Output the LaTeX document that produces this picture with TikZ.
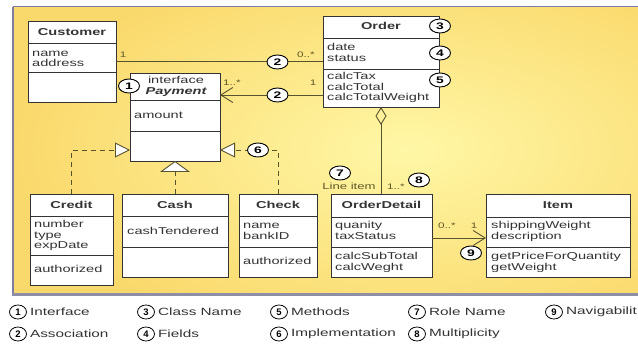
\documentclass[tikz,border=0pt]{standalone}
\usepackage{fontspec}
\setmainfont{Liberation Sans}
\newfontfamily\umlf[FakeStretch=1.46]{Liberation Sans}
\usetikzlibrary{arrows.meta,shapes.geometric}
\definecolor{panelin}{HTML}{FFF7A6}
\definecolor{panelout}{HTML}{FAD96C}
\definecolor{edgec}{HTML}{7C7CA4}
\definecolor{shadowc}{HTML}{8E8EA6}
\definecolor{ink}{HTML}{333333}
\definecolor{olive}{HTML}{5E5828}
\definecolor{linec}{HTML}{58532F}
\begin{document}
\begin{tikzpicture}[x=1pt,y=-1pt,
  classbox/.style={draw=ink, line width=0.9pt, fill=white, inner sep=0pt, outer sep=0pt, anchor=north west},
  divider/.style={draw=ink, line width=0.9pt},
  ctitle/.style={font=\umlf\fontsize{10}{11}\selectfont\bfseries, text=ink, inner sep=0pt, anchor=base},
  ctext/.style={font=\umlf\fontsize{10}{11}\selectfont, text=ink, inner sep=0pt, anchor=base west},
  num/.style={ellipse, draw=black, line width=0.9pt, fill=white, minimum width=21pt, minimum height=14pt, inner sep=0pt, font=\umlf\fontsize{9.5}{9.5}\selectfont\bfseries},
  lnum/.style={ellipse, draw=black, line width=0.8pt, fill=white, minimum width=17pt, minimum height=14pt, inner sep=0pt, font=\fontsize{9.5}{9.5}\selectfont\bfseries},
  mult/.style={font=\umlf\fontsize{8}{8}\selectfont, text=olive, inner sep=0pt, anchor=base},
  legendtext/.style={font=\umlf\fontsize{10.5}{11}\selectfont, text=ink, inner sep=0pt, anchor=west},
  conn/.style={draw=linec, line width=0.9pt},
  impl/.style={conn, dash pattern=on 5pt off 4pt},
  barb/.style={-{Straight Barb[length=12pt,width=15pt]}},
  realize/.style={-{Triangle[length=15pt,width=15pt,fill=white]}},
]
\useasboundingbox (0,0) rectangle (638,344);
\fill[white] (0,0) rectangle (638,344);
% panel
\begin{scope}
\clip (13,7) rectangle (638,293);
\shade[inner color=panelin, outer color=panelout] (13,-40) rectangle (800,340);
\end{scope}
\draw[edgec, line width=1pt] (13,7) -- (638,7);
\draw[edgec, line width=1.6pt] (13,7) -- (13,295);
\draw[shadowc, line width=3pt] (12,294.5) -- (638,294.5);

% Customer
\node[classbox, minimum width=88pt, minimum height=81pt] (customer) at (28,21) {};
\draw[divider] (28,43) -- (116,43) (28,72) -- (116,72);
\node[ctitle] (customer-t) at (72,36) {Customer};
\node[ctext] (customer-f1) at (32,57) {name};
\node[ctext] (customer-f2) at (32,67) {address};

% Payment
\node[classbox, minimum width=90pt, minimum height=88pt] (payment) at (130,73) {};
\draw[divider] (130,100) -- (220,100) (130,131) -- (220,131);
\node[ctext, anchor=base] (payment-s) at (176,84) {interface};
\node[ctitle] (payment-t) at (176,94.5) {\itshape Payment};
\node[ctext] (payment-f1) at (134,119) {amount};

% Order
\node[classbox, minimum width=116pt, minimum height=91pt] (order) at (323,16) {};
\draw[divider] (323,38) -- (439,38) (323,69) -- (439,69);
\node[ctitle] (order-t) at (381,30) {Order};
\node[ctext] (order-f1) at (327,51) {date};
\node[ctext] (order-f2) at (327,62) {status};
\node[ctext] (order-m1) at (327,80) {calcTax};
\node[ctext] (order-m2) at (327,90.5) {calcTotal};
\node[ctext] (order-m3) at (327,101) {calcTotalWeight};

% Credit
\node[classbox, minimum width=83pt, minimum height=91pt] (credit) at (30,194) {};
\draw[divider] (30,216) -- (113,216) (30,255) -- (113,255);
\node[ctitle] (credit-t) at (71.5,208.5) {Credit};
\node[ctext] (credit-f1) at (34,228) {number};
\node[ctext] (credit-f2) at (34,238.5) {type};
\node[ctext] (credit-f3) at (34,249) {expDate};
\node[ctext] (credit-m1) at (34,273) {authorized};

% Cash
\node[classbox, minimum width=106pt, minimum height=83pt] (cash) at (122,194) {};
\draw[divider] (122,216) -- (228,216) (122,247) -- (228,247);
\node[ctitle] (cash-t) at (175,208.5) {Cash};
\node[ctext] (cash-f1) at (127,235) {cashTendered};

% Check
\node[classbox, minimum width=78pt, minimum height=83pt] (check) at (239,194) {};
\draw[divider] (239,216) -- (317,216) (239,247) -- (317,247);
\node[ctitle] (check-t) at (278,208.5) {Check};
\node[ctext] (check-f1) at (243,229) {name};
\node[ctext] (check-f2) at (243,240) {bankID};
\node[ctext] (check-m1) at (243,265) {authorized};

% OrderDetail
\node[classbox, minimum width=101pt, minimum height=83pt] (orderdetail) at (331,194) {};
\draw[divider] (331,217) -- (432,217) (331,247) -- (432,247);
\node[ctitle] (orderdetail-t) at (381.5,209) {OrderDetail};
\node[ctext] (orderdetail-f1) at (335,229) {quanity};
\node[ctext] (orderdetail-f2) at (335,240) {taxStatus};
\node[ctext] (orderdetail-m1) at (335,260) {calcSubTotal};
\node[ctext] (orderdetail-m2) at (335,270.5) {calcWeght};

% Item
\node[classbox, minimum width=144pt, minimum height=83pt] (item) at (486,194) {};
\draw[divider] (486,217) -- (630,217) (486,247) -- (630,247);
\node[ctitle] (item-t) at (558,209) {Item};
\node[ctext] (item-f1) at (491,229) {shippingWeight};
\node[ctext] (item-f2) at (491,240) {description};
\node[ctext] (item-m1) at (491,260) {getPriceForQuantity};
\node[ctext] (item-m2) at (491,270.5) {getWeight};

% connectors
\draw[conn] (customer.east) -- (order.west);
\draw[conn, barb] ([yshift=-33.5pt]order.west) -- ([yshift=-33.5pt]order.west -| payment.east);
\draw[conn, {Diamond[open,length=18pt,width=11pt]}-] (order.south) -- (order.south |- orderdetail.north);
\draw[conn, barb] ([yshift=-2.5pt]orderdetail.east) -- ([yshift=-2.5pt]item.west);
\draw[impl, realize] (credit.north) |- ([yshift=-33pt]payment.west);
\draw[impl, -{Triangle[length=11pt,width=30pt,fill=white]}] (cash.north) -- (payment.south);
\draw[impl, realize] (check.north) |- ([yshift=-33pt]payment.east);

% multiplicities and role
\node[mult] (m-cust) at (123,57.5) {1};
\node[mult] (m-ord1) at (306,57.5) {0..*};
\node[mult] (m-pay) at (232,85.5) {1..*};
\node[mult] (m-ord2) at (313,85.5) {1};
\node[mult, font=\umlf\fontsize{9}{9}\selectfont] (role) at (349,190) {Line item};
\node[mult] (m-det) at (396,190) {1..*};
\node[mult] (m-det2) at (447,229) {0..*};
\node[mult] (m-item) at (474,229) {1};

% numbered markers
\node[num] (n1) at (129,86) {1};
\node[num] (n2a) at (277.5,62) {2};
\node[num] (n2b) at (277.5,95) {2};
\node[num] (n3) at (440,26) {3};
\node[num] (n4) at (440,53) {4};
\node[num] (n5) at (440,80) {5};
\node[num] (n6) at (258,150) {6};
\node[num] (n7) at (340,173) {7};
\node[num] (n8) at (419,180) {8};
\node[num] (n9) at (471,253) {9};

% legend
\node[lnum] (l1) at (18,312) {1};
\node[legendtext] (lt1) at ([xshift=3pt]l1.east) {Interface};
\node[lnum] (l2) at (18,334) {2};
\node[legendtext] (lt2) at ([xshift=3pt]l2.east) {Association};
\node[lnum] (l3) at (146,312) {3};
\node[legendtext] (lt3) at ([xshift=3pt]l3.east) {Class Name};
\node[lnum] (l4) at (146,334) {4};
\node[legendtext] (lt4) at ([xshift=3pt]l4.east) {Fields};
\node[lnum] (l5) at (279,312) {5};
\node[legendtext] (lt5) at ([xshift=3pt]l5.east) {Methods};
\node[lnum] (l6) at (279,334) {6};
\node[legendtext] (lt6) at ([xshift=3pt]l6.east) {Implementation};
\node[lnum] (l7) at (417,312) {7};
\node[legendtext] (lt7) at ([xshift=3pt]l7.east) {Role Name};
\node[lnum] (l8) at (417,334) {8};
\node[legendtext] (lt8) at ([xshift=3pt]l8.east) {Multiplicity};
\node[lnum] (l9) at (554,312) {9};
\node[legendtext] (lt9) at ([xshift=3pt]l9.east) {Navigabilit};
\end{tikzpicture}
\end{document}
